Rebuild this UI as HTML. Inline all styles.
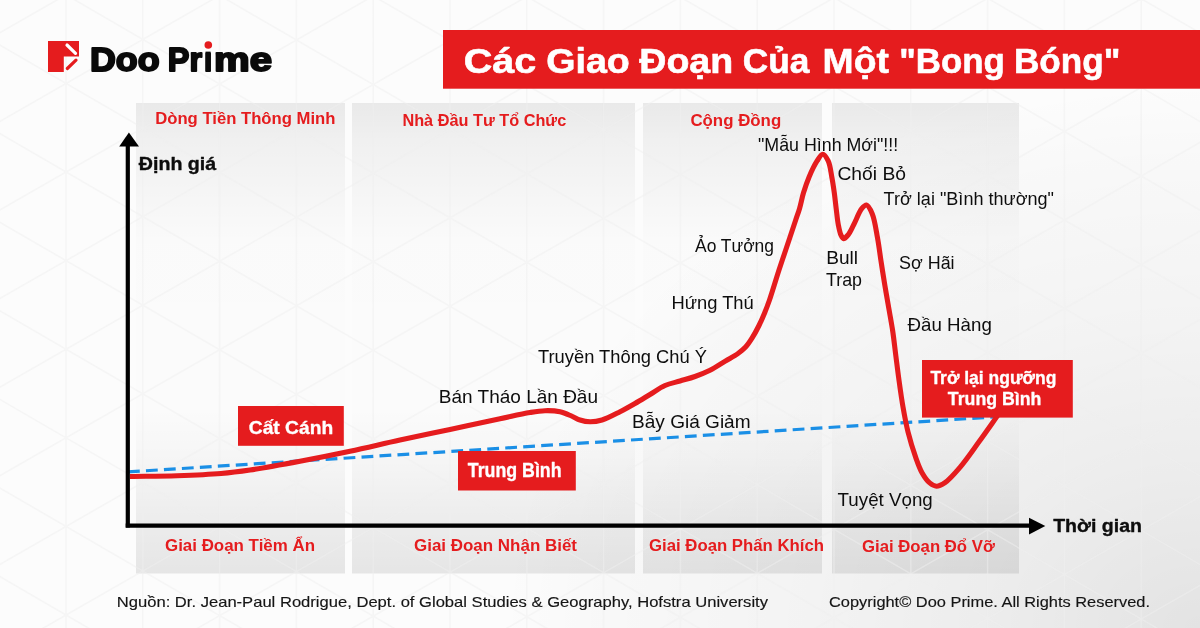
<!DOCTYPE html>
<html><head><meta charset="utf-8"><title>Các Giao Đoạn Của Một Bong Bóng</title>
<style>
html,body{margin:0;padding:0;}
body{width:1200px;height:628px;overflow:hidden;background:#fcfcfc;font-family:"Liberation Sans", "Noto Sans CJK SC", sans-serif;}
svg{display:block;}
text{font-family:"Liberation Sans", "Noto Sans CJK SC", sans-serif;}
</style></head><body>
<svg width="1200" height="628" viewBox="0 0 1200 628">
<defs>
<linearGradient id="pg" x1="0" y1="0" x2="0" y2="1">
<stop offset="0" stop-color="#000" stop-opacity="0.075"/>
<stop offset="0.08" stop-color="#000" stop-opacity="0.048"/>
<stop offset="0.21" stop-color="#000" stop-opacity="0.024"/>
<stop offset="0.3" stop-color="#000" stop-opacity="0.007"/>
<stop offset="0.65" stop-color="#000" stop-opacity="0.004"/>
<stop offset="0.75" stop-color="#000" stop-opacity="0.025"/>
<stop offset="0.88" stop-color="#000" stop-opacity="0.06"/>
<stop offset="1" stop-color="#000" stop-opacity="0.09"/>
</linearGradient>
<radialGradient id="br" cx="1200" cy="628" r="700" gradientUnits="userSpaceOnUse" gradientTransform="translate(1200,628) scale(1,0.78) translate(-1200,-628)">
<stop offset="0" stop-color="#000" stop-opacity="0.10"/>
<stop offset="0.29" stop-color="#000" stop-opacity="0.063"/>
<stop offset="0.57" stop-color="#000" stop-opacity="0.035"/>
<stop offset="0.86" stop-color="#000" stop-opacity="0.015"/>
<stop offset="1" stop-color="#000" stop-opacity="0"/>
</radialGradient>
<clipPath id="idot"><path clip-rule="evenodd" d="M0,0H1200V628H0Z M202.5,38H214V51.2H202.5Z"/></clipPath>
<filter id="blr" x="-5%" y="-5%" width="110%" height="110%"><feGaussianBlur stdDeviation="0.7"/></filter>
</defs>
<rect width="1200" height="628" fill="#fcfcfc"/>
<rect width="1200" height="628" fill="url(#br)"/>
<rect x="136" y="103" width="209" height="470.5" fill="url(#pg)"/><rect x="352" y="103" width="283" height="470.5" fill="url(#pg)"/><rect x="643" y="103" width="179" height="470.5" fill="url(#pg)"/><rect x="832" y="103" width="187" height="470.5" fill="url(#pg)"/>
<path d="M-87.6,0V628M-10.8,0V628M66.0,0V628M142.8,0V628M219.6,0V628M296.4,0V628M373.2,0V628M450.0,0V628M526.8,0V628M603.6,0V628M680.4,0V628M757.2,0V628M834.0,0V628M910.8,0V628M987.6,0V628M1064.4,0V628M1141.2,0V628M1218.0,0V628M-10.0,-669.5L1210.0,38.7M-10.0,-580.9L1210.0,127.3M-10.0,-492.3L1210.0,215.9M-10.0,-403.7L1210.0,304.5M-10.0,-315.1L1210.0,393.1M-10.0,-226.5L1210.0,481.7M-10.0,-137.9L1210.0,570.3M-10.0,-49.3L1210.0,658.9M-10.0,39.3L1210.0,747.5M-10.0,127.9L1210.0,836.1M-10.0,216.5L1210.0,924.7M-10.0,305.1L1210.0,1013.3M-10.0,393.7L1210.0,1101.9M-10.0,482.3L1210.0,1190.5M-10.0,570.9L1210.0,1279.1M-10.0,38.4L1210.0,-660.8M-10.0,127.0L1210.0,-572.2M-10.0,215.6L1210.0,-483.6M-10.0,304.2L1210.0,-395.0M-10.0,392.8L1210.0,-306.4M-10.0,481.4L1210.0,-217.8M-10.0,570.0L1210.0,-129.2M-10.0,658.6L1210.0,-40.6M-10.0,747.2L1210.0,48.0M-10.0,835.8L1210.0,136.6M-10.0,924.4L1210.0,225.2M-10.0,1013.0L1210.0,313.8M-10.0,1101.6L1210.0,402.4M-10.0,1190.2L1210.0,491.0M-10.0,1278.8L1210.0,579.6" stroke="#f0f0f0" stroke-width="1.5" fill="none" opacity="0.5"/>
<!-- logo -->
<path d="M48,41 H79 V56.5 H63.8 V72 H48 Z" fill="#e51c1e"/>
<line x1="67" y1="45" x2="75.5" y2="53.3" stroke="#fff" stroke-width="3.2" stroke-linecap="round"/>
<line x1="67.3" y1="68.5" x2="76" y2="60.2" stroke="#e51c1e" stroke-width="3.2" stroke-linecap="round"/>
<text y="71.00" font-size="34.0" font-weight="700" fill="#0a0a0a" stroke="#0a0a0a" stroke-width="2.00" stroke-linejoin="round" clip-path="url(#idot)"><tspan id="logo1" x="90.00" textLength="69.60" lengthAdjust="spacingAndGlyphs">Doo</tspan> <tspan id="logo2" x="167.80" textLength="34.20" lengthAdjust="spacingAndGlyphs">Pr</tspan><tspan id="logo3" x="204.00" textLength="8.20" lengthAdjust="spacingAndGlyphs">i</tspan><tspan id="logo4" x="214.00" textLength="58.00" lengthAdjust="spacingAndGlyphs">me</tspan></text>

<circle cx="208.3" cy="45" r="3.8" fill="#e51c1e"/>
<!-- banner -->
<rect x="443" y="30" width="757" height="58.7" fill="#e51c1e"/>
<text y="72.50" font-size="35.0" font-weight="700" fill="#fff" stroke="#fff" stroke-width="0.60" stroke-linejoin="round"><tspan id="t1" x="463.70" textLength="72.60" lengthAdjust="spacingAndGlyphs">Các</tspan> <tspan id="t2" x="546.20" textLength="83.60" lengthAdjust="spacingAndGlyphs">Giao</tspan> <tspan id="t3" x="639.30" textLength="93.90" lengthAdjust="spacingAndGlyphs">Đoạn</tspan> <tspan id="t4" x="742.80" textLength="66.60" lengthAdjust="spacingAndGlyphs">Của</tspan> <tspan id="t5" x="822.60" textLength="66.30" lengthAdjust="spacingAndGlyphs">Một</tspan> <tspan id="t6" x="899.20" textLength="105.60" lengthAdjust="spacingAndGlyphs">&quot;Bong</tspan> <tspan id="t7" x="1014.00" textLength="106.40" lengthAdjust="spacingAndGlyphs">Bóng&quot;</tspan></text>

<!-- blue dashed -->
<line x1="128" y1="471.9" x2="997" y2="416.8" stroke="#1a8fe6" stroke-width="3.2" stroke-dasharray="11.8,6.2"/>
<!-- curve -->
<path d="M130.00,476.50 C145.67,476.23 161.60,476.22 177.00,475.70 C191.91,475.20 207.87,474.62 221.00,473.50 C231.69,472.59 239.05,471.62 250.00,470.00 C264.44,467.87 283.35,464.37 300.00,461.25 C316.69,458.12 333.35,454.79 350.00,451.25 C366.69,447.70 383.32,443.63 400.00,440.00 C416.65,436.38 433.34,433.04 450.00,429.50 C466.67,425.96 485.45,421.83 500.00,418.75 C511.27,416.37 521.69,413.86 530.00,412.50 C535.83,411.54 539.99,410.82 545.00,410.70 C549.99,410.58 555.35,410.74 560.00,411.75 C564.30,412.69 568.43,414.75 572.00,416.25 C574.96,417.50 577.12,419.08 580.00,420.00 C583.09,420.98 586.51,421.75 590.00,421.80 C593.81,421.86 597.69,421.28 602.00,420.00 C607.50,418.36 614.32,414.61 620.00,411.75 C625.28,409.09 630.03,406.36 635.00,403.50 C640.03,400.61 645.00,397.50 650.00,394.50 C655.00,391.50 659.85,387.77 665.00,385.50 C669.87,383.35 675.00,382.50 680.00,381.00 C685.00,379.50 690.04,378.26 695.00,376.50 C700.05,374.71 705.07,372.79 710.00,370.30 C715.17,367.69 720.44,364.02 725.30,361.10 C729.73,358.44 734.39,356.07 738.00,353.50 C740.95,351.39 743.31,349.57 745.60,347.10 C748.00,344.51 749.92,341.50 752.00,338.20 C754.40,334.41 756.87,329.79 759.00,325.50 C761.10,321.29 762.94,316.98 764.70,312.70 C766.43,308.48 767.71,305.16 769.50,300.00 C772.23,292.15 776.07,278.98 779.00,270.00 C781.40,262.65 783.25,257.34 785.70,250.00 C788.70,241.01 793.15,227.61 795.70,220.00 C797.26,215.33 798.29,212.81 799.50,208.70 C800.92,203.88 801.91,198.06 803.50,192.80 C805.11,187.46 806.88,182.14 809.10,176.90 C811.39,171.50 814.43,164.98 817.10,160.90 C818.97,158.05 820.85,154.19 822.70,154.20 C824.55,154.21 826.77,157.97 828.20,160.90 C830.17,164.92 830.78,171.56 831.80,176.90 C832.81,182.19 833.57,187.49 834.30,192.80 C835.03,198.09 835.53,203.39 836.20,208.70 C836.87,214.03 837.38,219.95 838.30,224.70 C839.05,228.59 839.81,232.74 841.00,235.20 C841.75,236.74 842.54,238.48 843.60,238.60 C844.82,238.74 846.59,236.69 848.00,235.00 C850.02,232.57 851.68,228.53 853.70,224.70 C856.19,219.97 858.98,212.00 861.70,208.70 C863.28,206.78 864.96,204.74 866.50,205.00 C868.54,205.35 870.68,210.03 872.30,213.90 C874.76,219.78 876.03,229.81 877.50,237.80 C878.96,245.74 879.87,253.74 881.10,261.70 C882.33,269.67 883.58,277.65 884.90,285.60 C886.22,293.55 887.67,301.66 889.00,309.40 C890.27,316.77 891.59,323.56 892.70,331.00 C893.88,338.90 894.74,347.25 895.80,355.50 C896.88,363.92 897.92,372.51 899.10,381.00 C900.28,389.48 901.42,397.94 902.90,406.40 C904.39,414.91 905.88,423.45 908.00,431.90 C910.14,440.45 913.08,450.03 915.70,457.40 C917.77,463.20 919.46,468.26 922.00,472.70 C924.23,476.61 926.93,480.61 929.70,482.90 C931.82,484.65 934.01,486.13 936.40,486.20 C939.07,486.28 941.96,484.66 945.00,482.60 C949.61,479.48 954.91,473.25 960.00,467.30 C966.20,460.06 972.87,450.22 979.00,441.80 C984.92,433.66 991.78,423.84 996.20,417.60 C998.99,413.67 1000.73,411.20 1003.00,408.00" fill="none" stroke="#e51c1e" stroke-width="5.1" stroke-linecap="butt" stroke-linejoin="round"/>
<!-- axes -->
<line x1="127.8" y1="145" x2="127.8" y2="527.6" stroke="#000" stroke-width="4.2"/>
<path d="M128.9,132.4 L139,146.6 L119.2,146.6 Z" fill="#000"/>
<line x1="125.7" y1="525.6" x2="1031" y2="525.6" stroke="#000" stroke-width="4.2"/>
<path d="M1045.3,526 L1029,517.8 L1029,534.6 Z" fill="#000"/>
<!-- boxes -->
<rect x="238" y="406" width="105.8" height="39.8" fill="#e51c1e"/>
<rect x="458" y="451" width="117.8" height="39.5" fill="#e51c1e"/>
<rect x="922" y="360" width="150.8" height="57.6" fill="#e51c1e"/>
<text id="h1" x="155.20" y="123.80" font-size="16.0" font-weight="700" fill="#e51c1e" textLength="180.20" lengthAdjust="spacingAndGlyphs">Dòng Tiền Thông Minh</text>
<text id="h2" x="402.40" y="126.00" font-size="16.0" font-weight="700" fill="#e51c1e" textLength="163.80" lengthAdjust="spacingAndGlyphs">Nhà Đầu Tư Tổ Chức</text>
<text id="h3" x="690.40" y="125.70" font-size="16.0" font-weight="700" fill="#e51c1e" textLength="90.80" lengthAdjust="spacingAndGlyphs">Cộng Đồng</text>
<text id="y" x="138.80" y="170.00" font-size="18.6" font-weight="700" fill="#0d0d0d" stroke="#0d0d0d" stroke-width="0.35" stroke-linejoin="round" textLength="77.40" lengthAdjust="spacingAndGlyphs">Định giá</text>
<text id="n1" x="758.00" y="150.60" font-size="19.0" font-weight="400" fill="#0d0d0d" textLength="140.20" lengthAdjust="spacingAndGlyphs">&quot;Mẫu Hình Mới&quot;!!!</text>
<text id="n2" x="837.40" y="179.60" font-size="19.0" font-weight="400" fill="#0d0d0d" textLength="68.60" lengthAdjust="spacingAndGlyphs">Chối Bỏ</text>
<text id="n3" x="883.60" y="205.00" font-size="19.0" font-weight="400" fill="#0d0d0d" textLength="170.40" lengthAdjust="spacingAndGlyphs">Trở lại &quot;Bình thường&quot;</text>
<text id="n4" x="695.00" y="252.00" font-size="19.0" font-weight="400" fill="#0d0d0d" textLength="79.00" lengthAdjust="spacingAndGlyphs">Ảo Tưởng</text>
<text id="n5" x="671.40" y="308.50" font-size="19.0" font-weight="400" fill="#0d0d0d" textLength="82.40" lengthAdjust="spacingAndGlyphs">Hứng Thú</text>
<text id="n6" x="826.20" y="263.90" font-size="19.0" font-weight="400" fill="#0d0d0d" textLength="31.80" lengthAdjust="spacingAndGlyphs">Bull</text>
<text id="n7" x="826.00" y="285.90" font-size="19.0" font-weight="400" fill="#0d0d0d" textLength="36.00" lengthAdjust="spacingAndGlyphs">Trap</text>
<text id="n8" x="899.00" y="269.00" font-size="19.0" font-weight="400" fill="#0d0d0d" textLength="55.60" lengthAdjust="spacingAndGlyphs">Sợ Hãi</text>
<text id="n9" x="907.60" y="330.80" font-size="19.0" font-weight="400" fill="#0d0d0d" textLength="84.20" lengthAdjust="spacingAndGlyphs">Đầu Hàng</text>
<text id="n10" x="538.00" y="362.60" font-size="19.0" font-weight="400" fill="#0d0d0d" textLength="169.00" lengthAdjust="spacingAndGlyphs">Truyền Thông Chú Ý</text>
<text id="n11" x="438.80" y="403.30" font-size="19.0" font-weight="400" fill="#0d0d0d" textLength="159.20" lengthAdjust="spacingAndGlyphs">Bán Tháo Lần Đầu</text>
<text id="n12" x="632.00" y="428.00" font-size="19.0" font-weight="400" fill="#0d0d0d" textLength="118.60" lengthAdjust="spacingAndGlyphs">Bẫy Giá Giảm</text>
<text id="n13" x="837.60" y="505.90" font-size="19.0" font-weight="400" fill="#0d0d0d" textLength="95.20" lengthAdjust="spacingAndGlyphs">Tuyệt Vọng</text>
<text id="b1" x="248.80" y="433.50" font-size="19.0" font-weight="700" fill="#fff" stroke="#fff" stroke-width="0.35" stroke-linejoin="round" textLength="84.40" lengthAdjust="spacingAndGlyphs">Cất Cánh</text>
<text id="b2" x="467.80" y="476.70" font-size="20.0" font-weight="700" fill="#fff" stroke="#fff" stroke-width="0.35" stroke-linejoin="round" textLength="93.80" lengthAdjust="spacingAndGlyphs">Trung Bình</text>
<text id="b3" x="930.40" y="383.90" font-size="19.0" font-weight="700" fill="#fff" stroke="#fff" stroke-width="0.35" stroke-linejoin="round" textLength="126.00" lengthAdjust="spacingAndGlyphs">Trở lại ngưỡng</text>
<text id="b4" x="947.80" y="404.50" font-size="19.0" font-weight="700" fill="#fff" stroke="#fff" stroke-width="0.35" stroke-linejoin="round" textLength="93.60" lengthAdjust="spacingAndGlyphs">Trung Bình</text>
<text id="x" x="1053.20" y="532.00" font-size="19.2" font-weight="700" fill="#0d0d0d" stroke="#0d0d0d" stroke-width="0.35" stroke-linejoin="round" textLength="88.80" lengthAdjust="spacingAndGlyphs">Thời gian</text>
<text id="g1" x="165.00" y="550.50" font-size="16.0" font-weight="700" fill="#e51c1e" textLength="150.00" lengthAdjust="spacingAndGlyphs">Giai Đoạn Tiềm Ẩn</text>
<text id="g2" x="414.00" y="551.25" font-size="16.0" font-weight="700" fill="#e51c1e" textLength="163.00" lengthAdjust="spacingAndGlyphs">Giai Đoạn Nhận Biết</text>
<text id="g3" x="649.00" y="551.25" font-size="16.0" font-weight="700" fill="#e51c1e" textLength="175.00" lengthAdjust="spacingAndGlyphs">Giai Đoạn Phấn Khích</text>
<text id="g4" x="862.00" y="551.80" font-size="16.0" font-weight="700" fill="#e51c1e" textLength="132.80" lengthAdjust="spacingAndGlyphs">Giai Đoạn Đổ Vỡ</text>
<text id="f1" x="116.80" y="607.00" font-size="15.0" font-weight="400" fill="#151515" stroke="#151515" stroke-width="0.15" stroke-linejoin="round" textLength="651.20" lengthAdjust="spacingAndGlyphs">Nguồn: Dr. Jean-Paul Rodrigue, Dept. of Global Studies &amp; Geography, Hofstra University</text>
<text id="f2" x="829.00" y="607.00" font-size="15.0" font-weight="400" fill="#151515" stroke="#151515" stroke-width="0.15" stroke-linejoin="round" textLength="321.00" lengthAdjust="spacingAndGlyphs">Copyright© Doo Prime. All Rights Reserved.</text>

</svg>
</body></html>
